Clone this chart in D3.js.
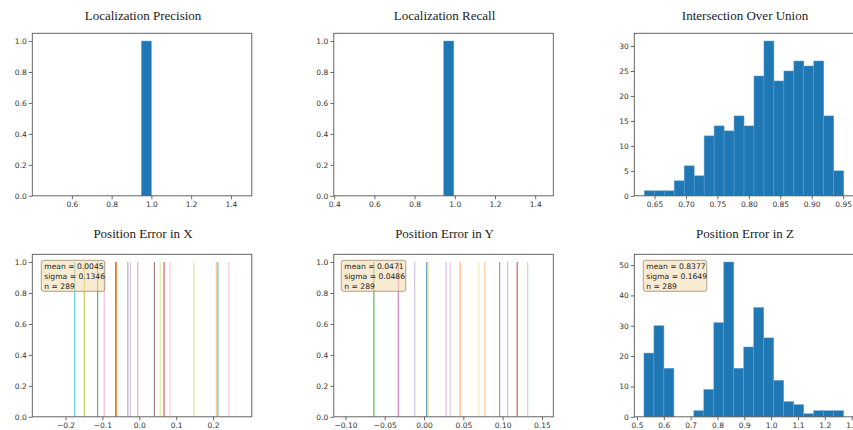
<!DOCTYPE html>
<html>
<head>
<meta charset="utf-8">
<script src="https://cdn.jsdelivr.net/npm/d3@7"></script>
<style>
  body { margin: 0; background: #fff; }
</style>
</head>
<body>
<script>
const w = 853;
const h = 430;

// Localization precision / recall: a single bin holding every sample
const precisionBin = [0.95, 1.0];
const precisionCount = 1.0;
const recallBin = [0.945, 0.995];
const recallCount = 1.0;

// IoU histogram, 20 equal bins
const iouRange = [0.6337, 0.951];
const iouCounts = [1, 1, 1, 3, 6, 4, 12, 14, 13, 16, 14, 24, 31, 23, 25, 27, 26, 27, 16, 5];

// position error in x / y, one thin bar per sample group (height 1)
const errX = [-0.175, -0.149, -0.113, -0.095, -0.064, -0.062, -0.031, -0.024, -0.004, 0.041, 0.057, 0.067, 0.083, 0.148, 0.209, 0.213, 0.243];
const errXColors = ["#17becf", "#bcbd22", "#2ca02c", "#f0a8d8", "#8c564b", "#ff7f0e", "#9a90a8", "#c5b0d5", "#c49c94", "#8c564b", "#dbdb8d", "#d62728", "#f7b6d2", "#dbdb8d", "#ffbb78", "#17becf", "#f7b6d2"];
const errY = [-0.0638, -0.0327, -0.0119, 0.0034, 0.0051, 0.0281, 0.0332, 0.0459, 0.0698, 0.0774, 0.0962, 0.1064, 0.1186, 0.1319];
const errYColors = ["#2ca02c", "#d05aa8", "#c5b0d5", "#1f77b4", "#e0d860", "#c5b0d5", "#f7b6d2", "#ffa040", "#ece8a8", "#ffbb78", "#9467bd", "#c5b0d5", "#d62728", "#aec7e8"];

// position error in z, 20 equal bins
const zRange = [0.526, 1.270];
const zCounts = [21, 30, 16, 0, 0, 2, 9, 31, 51, 16, 23, 36, 26, 12, 5, 4, 1, 2, 2, 2];

const statsX = ["mean = 0.0045", "sigma = 0.1346", "n = 289"];
const statsY = ["mean = 0.0471", "sigma = 0.0486", "n = 289"];
const statsZ = ["mean = 0.8377", "sigma = 0.1649", "n = 289"];

const titles = ["Localization Precision", "Localization Recall", "Intersection Over Union",
                "Position Error in X", "Position Error in Y", "Position Error in Z"];

const unitTicks = [0, 0.2, 0.4, 0.6, 0.8, 1.0];
const ticksPR = [0.4, 0.6, 0.8, 1.0, 1.2, 1.4];
const ticksIou = [0.65, 0.70, 0.75, 0.80, 0.85, 0.90, 0.95];
const ticksIouY = [0, 5, 10, 15, 20, 25, 30];
const ticksX = [-0.2, -0.1, 0.0, 0.1, 0.2];
const ticksY = [-0.10, -0.05, 0.00, 0.05, 0.10, 0.15];
const ticksZ = [0.5, 0.6, 0.7, 0.8, 0.9, 1.0, 1.1, 1.2, 1.3];
const ticksZY = [0, 10, 20, 30, 40, 50];

const barColor = "#1f77b4";

let svg = d3.select("body").append("svg")
    .attr("width", w)
    .attr("height", h)
    .style("background-color", "#fff");

const colX = [32.3, 333.8, 634.3];
const rowY = [33.3, 254.3];
const pw = 219.5;
const ph = 162.5;

function makePanel(i, xDomain, yDomain, xTicks, yTicks, xFmt, yFmt) {
    const left = colX[i % 3], top = rowY[Math.floor(i / 3)];
    const g = svg.append("g").attr("transform", "translate(" + left + "," + top + ")");
    const x = d3.scaleLinear().domain(xDomain).range([0, pw]);
    const y = d3.scaleLinear().domain(yDomain).range([ph, 0]);

    svg.append("text")
        .attr("x", left + pw / 2 + 1)
        .attr("y", top - (i < 3 ? 13.5 : 16))
        .attr("text-anchor", "middle")
        .style("font-family", "'Liberation Serif', 'Times New Roman', serif")
        .style("font-size", "13px")
        .style("fill", "#1a1a1a")
        .text(titles[i]);

    const xa = g.append("g")
        .attr("transform", "translate(0," + ph + ")")
        .call(d3.axisBottom(x)
            .tickValues(xTicks.filter(t => t >= xDomain[0] - 1e-9))
            .tickFormat(d3.format(xFmt))
            .tickSize(3.5).tickPadding(2));
    const ya = g.append("g")
        .call(d3.axisLeft(y).tickValues(yTicks).tickFormat(d3.format(yFmt))
            .tickSize(3.5).tickPadding(2));
    [xa, ya].forEach(function (a) {
        a.select(".domain").remove();
        a.selectAll("line").attr("stroke", "#444").attr("stroke-width", 0.8);
        a.selectAll("text")
            .style("font-family", "'DejaVu Sans', sans-serif")
            .style("font-size", "7.5px")
            .style("fill", "#333");
    });

    const plot = g.append("g");
    g.append("rect")
        .attr("width", pw).attr("height", ph)
        .attr("fill", "none")
        .attr("stroke", "#555")
        .attr("stroke-width", 0.9);
    return { g: g, plot: plot, x: x, y: y };
}

function drawHist(p, range, counts) {
    const step = (range[1] - range[0]) / counts.length;
    const bins = counts.map(function (c, k) {
        return { x0: range[0] + k * step, x1: range[0] + (k + 1) * step, c: c };
    });
    p.plot.selectAll("rect.bar").data(bins.filter(d => d.c > 0)).join("rect")
        .attr("class", "bar")
        .attr("x", d => p.x(d.x0))
        .attr("width", d => p.x(d.x1) - p.x(d.x0))
        .attr("y", d => p.y(d.c))
        .attr("height", d => p.y(0) - p.y(d.c))
        .attr("fill", barColor)
        .attr("stroke", "#5d9fd3")
        .attr("stroke-width", 0.5);
}

function drawLines(p, values, colors) {
    p.plot.selectAll("line.err").data(values).join("line")
        .attr("class", "err")
        .attr("x1", d => p.x(d)).attr("x2", d => p.x(d))
        .attr("y1", p.y(0)).attr("y2", p.y(1))
        .attr("stroke", (d, k) => colors[k])
        .attr("stroke-width", 1.2)
        .attr("opacity", 0.75);
}

function drawStats(p, lines, bx, bw) {
    const box = p.g.append("g").attr("transform", "translate(" + bx + ",6)");
    box.append("rect")
        .attr("width", bw).attr("height", 31)
        .attr("rx", 2.5)
        .attr("fill", "#f5deb3").attr("fill-opacity", 0.6)
        .attr("stroke", "#9a8a6a").attr("stroke-width", 0.8);
    box.selectAll("text").data(lines).join("text")
        .attr("x", 3)
        .attr("y", (d, k) => 8.5 + k * 10)
        .style("font-family", "'DejaVu Sans', sans-serif")
        .style("font-size", "7.6px")
        .style("fill", "#222")
        .text(d => d);
}

// row 1
let p1 = makePanel(0, [0.401, 1.505], [0, 1.05], ticksPR, unitTicks, ".1f", ".1f");
p1.plot.append("rect")
    .attr("x", p1.x(precisionBin[0]))
    .attr("width", p1.x(precisionBin[1]) - p1.x(precisionBin[0]))
    .attr("y", p1.y(precisionCount))
    .attr("height", p1.y(0) - p1.y(precisionCount))
    .attr("fill", barColor).attr("stroke", "#5d9fd3").attr("stroke-width", 0.5);

let p2 = makePanel(1, [0.398, 1.49], [0, 1.05], ticksPR, unitTicks, ".1f", ".1f");
p2.plot.append("rect")
    .attr("x", p2.x(recallBin[0]))
    .attr("width", p2.x(recallBin[1]) - p2.x(recallBin[0]))
    .attr("y", p2.y(recallCount))
    .attr("height", p2.y(0) - p2.y(recallCount))
    .attr("fill", barColor).attr("stroke", "#5d9fd3").attr("stroke-width", 0.5);

let p3 = makePanel(2, [0.6178, 0.967], [0, 32.55], ticksIou, ticksIouY, ".2f", "d");
drawHist(p3, iouRange, iouCounts);

// row 2
let p4 = makePanel(3, [-0.290, 0.305], [0, 1.05], ticksX, unitTicks, ".1f", ".1f");
drawLines(p4, errX, errXColors);
drawStats(p4, statsX, 9, 63.5);

let p5 = makePanel(4, [-0.1148, 0.1645], [0, 1.05], ticksY, unitTicks, ".2f", ".1f");
drawLines(p5, errY, errYColors);
drawStats(p5, statsY, 7.5, 64.5);

let p6 = makePanel(5, [0.490, 1.308], [0, 53.55], ticksZ, ticksZY, ".1f", "d");
drawHist(p6, zRange, zCounts);
drawStats(p6, statsZ, 9, 63.5);
</script>
</body>
</html>
